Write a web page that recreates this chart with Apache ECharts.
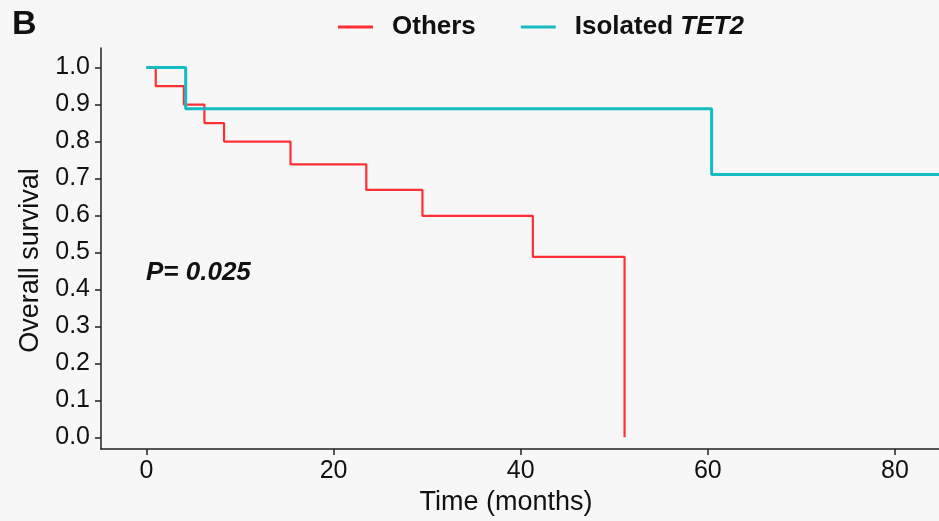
<!DOCTYPE html>
<html>
<head>
<meta charset="utf-8">
<script src="https://cdn.jsdelivr.net/npm/echarts@6/dist/echarts.min.js"></script>
<style>html,body{margin:0;padding:0;background:#f7f7f7;overflow:hidden;}#c{width:939px;height:521px;}</style>
</head>
<body>
<div id="c"></div>
<script>
// Kaplan-Meier step data (time in months, survival probability)
const othersTime = [0, 1, 4, 6.2, 8.3, 15.4, 23.5, 29.5, 41.3, 51.1];
const othersSurv = [1, 0.95, 0.90, 0.85, 0.80, 0.738, 0.669, 0.599, 0.488, 0];
const tet2Time = [0, 4.2, 60.4, 85];
const tet2Surv = [1, 0.889, 0.711, 0.711];
const xTicks = [0, 20, 40, 60, 80];
const yTicks = [0, 0.1, 0.2, 0.3, 0.4, 0.5, 0.6, 0.7, 0.8, 0.9, 1.0];
const seriesNames = ['Others', 'Isolated TET2'];
const pValueText = 'P= 0.025';
const panelLetter = 'B';

const FONT = '"Liberation Sans", Arial, Helvetica, sans-serif';
const RED = '#ff2f36';
const TEAL = '#14bcc2';

const chart = echarts.init(document.getElementById('c'), null, {renderer: 'canvas'});
chart.setOption({
  backgroundColor: '#f7f7f7',
  animation: false,
  grid: {left: 101, right: 0, top: 48, bottom: 64, containLabel: false},
  legend: {
    data: seriesNames,
    left: 333, top: 9,
    icon: 'rect', itemWidth: 35, itemHeight: 3, itemGap: 45,
    textStyle: {
      fontFamily: FONT, fontSize: 26, fontWeight: 'bold', color: '#111',
      padding: [0, 0, 0, 14],
      rich: {
        a: {fontFamily: FONT, fontSize: 26, fontWeight: 'bold', color: '#111'},
        b: {fontFamily: FONT, fontSize: 26, fontWeight: 'bold', fontStyle: 'italic', color: '#111'}
      }
    },
    formatter: function (n) {
      return n === 'Isolated TET2' ? '{a|Isolated }{b|TET2}' : n;
    }
  },
  xAxis: {
    type: 'value', min: -4.85, max: 84.7,
    name: 'Time (months)', nameLocation: 'middle', nameGap: 33,
    nameTextStyle: {fontFamily: FONT, fontSize: 27, color: '#111', padding: [0, 28, 0, 0]},
    splitLine: {show: false},
    axisLine: {onZero: false, lineStyle: {color: '#222', width: 1.5}},
    axisTick: {show: true, length: 6, customValues: xTicks, lineStyle: {color: '#222', width: 1.5}},
    axisLabel: {customValues: xTicks, fontFamily: FONT, fontSize: 25, color: '#111', margin: 10}
  },
  yAxis: {
    type: 'value', min: -0.032, max: 1.053,
    name: 'Overall survival', nameLocation: 'middle', nameGap: 50,
    nameTextStyle: {fontFamily: FONT, fontSize: 27, color: '#111', padding: [0, 24, 0, 0]},
    splitLine: {show: false},
    axisLine: {show: true, onZero: false, lineStyle: {color: '#222', width: 1.5}},
    axisTick: {show: true, length: 6, customValues: yTicks, lineStyle: {color: '#222', width: 1.5}},
    axisLabel: {customValues: yTicks, fontFamily: FONT, fontSize: 25, color: '#111', margin: 11,
      formatter: function (v) { return v.toFixed(1); }}
  },
  series: [
    {
      name: seriesNames[0], type: 'line', step: 'end', symbol: 'none', clip: true,
      color: RED, lineStyle: {color: RED, width: 2.2}, z: 3,
      data: othersTime.map((t, i) => [t, othersSurv[i]])
    },
    {
      name: seriesNames[1], type: 'line', step: 'end', symbol: 'none', clip: true,
      color: TEAL, lineStyle: {color: TEAL, width: 3}, z: 4,
      data: tet2Time.map((t, i) => [t, tet2Surv[i]])
    }
  ],
  graphic: [
    {type: 'text', left: 12, top: 8, style: {text: panelLetter, font: 'bold 34px ' + FONT, fill: '#111'}},
    {type: 'text', left: 146, top: 260, style: {text: pValueText, font: 'italic bold 26px ' + FONT, fill: '#111'}}
  ]
});
</script>
</body>
</html>
